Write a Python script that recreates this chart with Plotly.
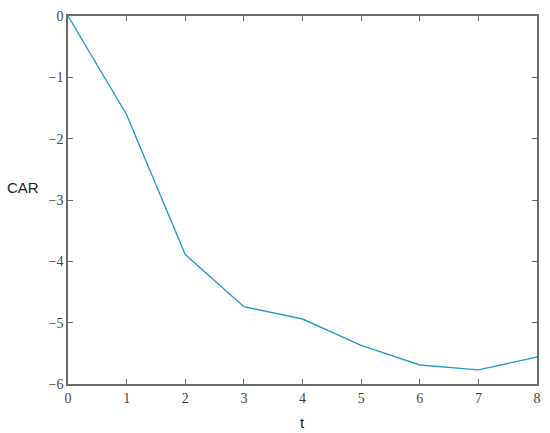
import plotly.graph_objects as go

t_values = [0, 1, 2, 3, 4, 5, 6, 7, 8]
car_values = [0.0, -1.61, -3.89, -4.74, -4.94, -5.37, -5.69, -5.77, -5.56]
y_ticks = [0, -1, -2, -3, -4, -5, -6]
y_tick_text = ["0", "\u22121", "\u22122", "\u22123", "\u22124", "\u22125", "\u22126"]

fig = go.Figure()
fig.add_trace(
    go.Scatter(
        x=t_values,
        y=car_values,
        mode="lines",
        line={"color": "#2b9bcb", "width": 1.4},
        showlegend=False,
    )
)

axis_style = {
    "showgrid": False,
    "zeroline": False,
    "showline": True,
    "linecolor": "#6b6b6b",
    "linewidth": 1.5,
    "mirror": "ticks",
    "ticks": "inside",
    "ticklen": 5,
    "tickcolor": "#6b6b6b",
    "tickwidth": 1,
    "tickfont": {"family": "Liberation Serif", "size": 14, "color": "#444444"},
}

fig.update_xaxes(range=[0, 8], tickvals=t_values, **axis_style)
fig.update_yaxes(range=[-6, 0], tickvals=y_ticks, ticktext=y_tick_text, **axis_style)

fig.update_layout(
    width=550,
    height=433,
    margin={"l": 68, "r": 9, "t": 12, "b": 49},
    paper_bgcolor="white",
    plot_bgcolor="white",
    annotations=[
        {
            "text": "CAR",
            "xref": "paper",
            "yref": "paper",
            "x": -0.057,
            "y": 0.535,
            "xanchor": "right",
            "yanchor": "middle",
            "showarrow": False,
            "font": {"family": "Liberation Sans", "size": 15, "color": "#222222"},
        },
        {
            "text": "t",
            "xref": "paper",
            "yref": "paper",
            "x": 0.5,
            "y": -0.075,
            "xanchor": "center",
            "yanchor": "top",
            "showarrow": False,
            "font": {"family": "Liberation Sans", "size": 15, "color": "#222222"},
        },
    ],
)

# page body has a default margin; remove it so the figure fills the window
fig.write_html(
    "out.html",
    config={"displayModeBar": False},
    post_script="document.body.style.margin='0';",
)
